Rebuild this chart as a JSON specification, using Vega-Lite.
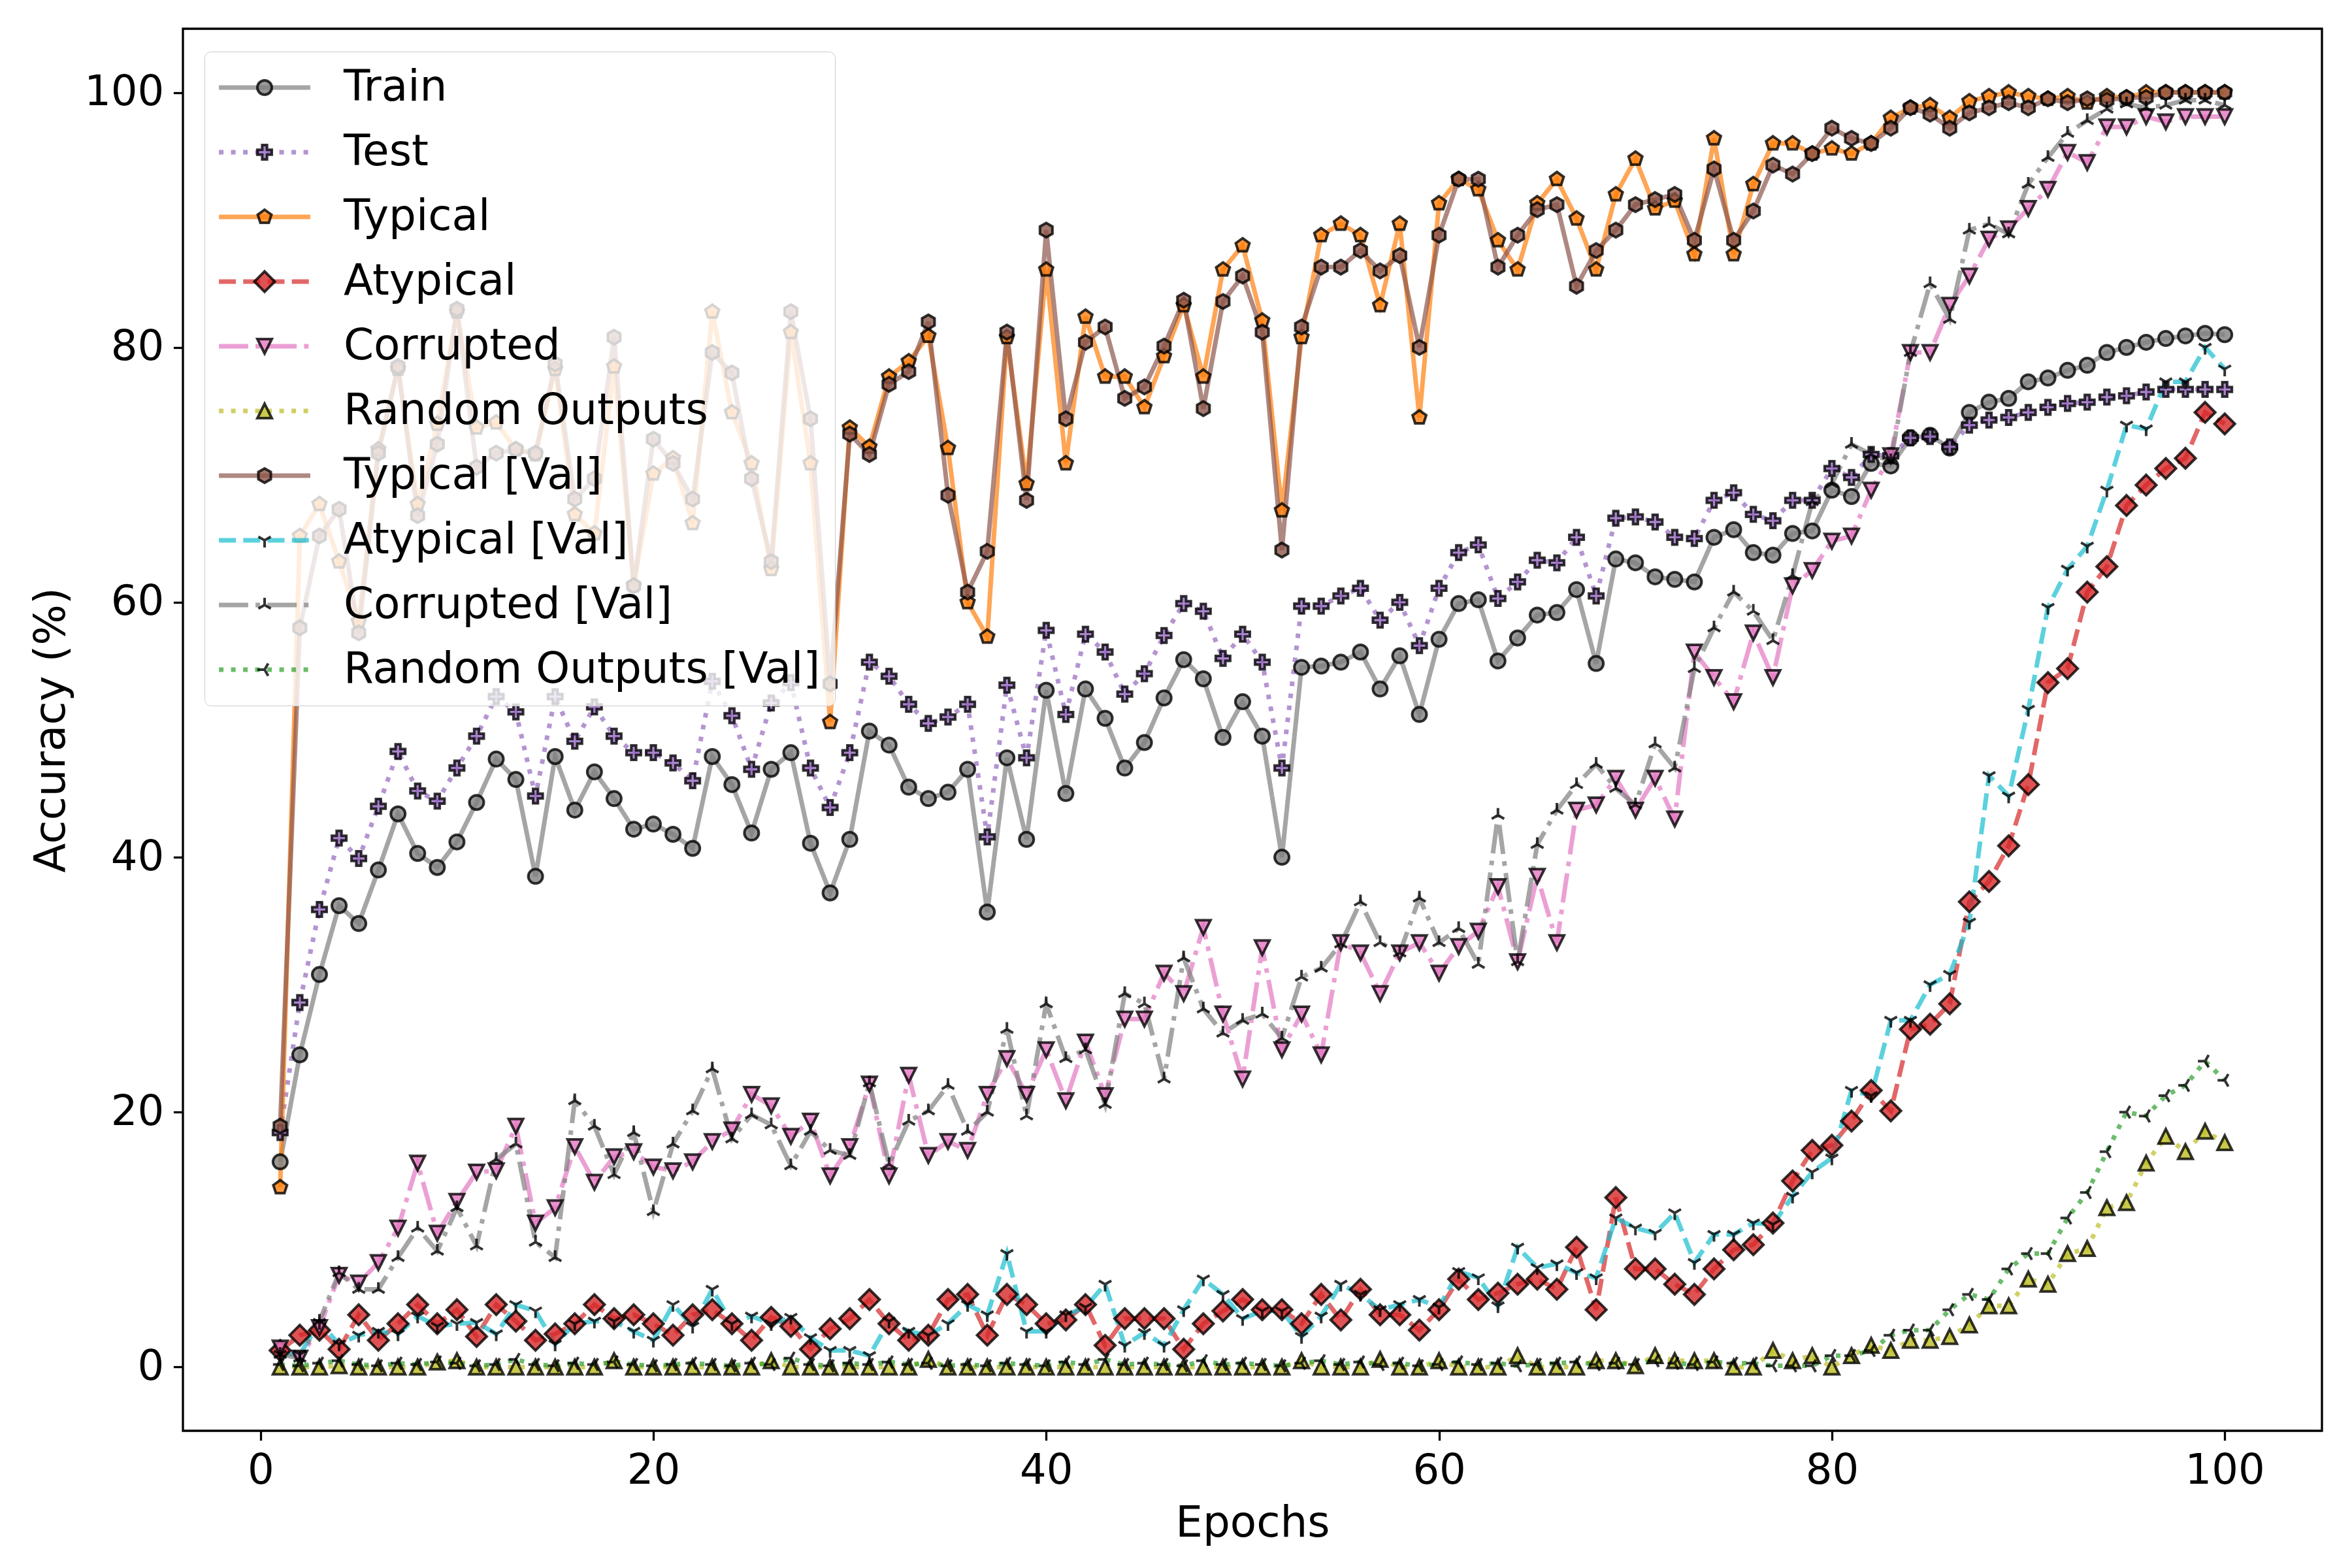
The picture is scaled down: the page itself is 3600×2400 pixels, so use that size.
{
  "$schema": "https://vega.github.io/schema/vega-lite/v6.json",
  "width": 3274,
  "height": 2146,
  "autosize": {"type": "none"},
  "padding": {"left": 280, "top": 44, "right": 46, "bottom": 210},
  "background": "white",
  "data": {"values": [
    {"series":"Train","epoch":1,"acc":16.1},{"series":"Train","epoch":2,"acc":24.5},{"series":"Train","epoch":3,"acc":30.8},{"series":"Train","epoch":4,"acc":36.2},{"series":"Train","epoch":5,"acc":34.8},{"series":"Train","epoch":6,"acc":39.0},{"series":"Train","epoch":7,"acc":43.4},{"series":"Train","epoch":8,"acc":40.3},{"series":"Train","epoch":9,"acc":39.2},{"series":"Train","epoch":10,"acc":41.2},
    {"series":"Train","epoch":11,"acc":44.3},{"series":"Train","epoch":12,"acc":47.7},{"series":"Train","epoch":13,"acc":46.1},{"series":"Train","epoch":14,"acc":38.5},{"series":"Train","epoch":15,"acc":47.9},{"series":"Train","epoch":16,"acc":43.7},{"series":"Train","epoch":17,"acc":46.7},{"series":"Train","epoch":18,"acc":44.6},{"series":"Train","epoch":19,"acc":42.2},{"series":"Train","epoch":20,"acc":42.6},
    {"series":"Train","epoch":21,"acc":41.8},{"series":"Train","epoch":22,"acc":40.7},{"series":"Train","epoch":23,"acc":47.9},{"series":"Train","epoch":24,"acc":45.7},{"series":"Train","epoch":25,"acc":41.9},{"series":"Train","epoch":26,"acc":46.9},{"series":"Train","epoch":27,"acc":48.2},{"series":"Train","epoch":28,"acc":41.1},{"series":"Train","epoch":29,"acc":37.2},{"series":"Train","epoch":30,"acc":41.4},
    {"series":"Train","epoch":31,"acc":49.9},{"series":"Train","epoch":32,"acc":48.8},{"series":"Train","epoch":33,"acc":45.5},{"series":"Train","epoch":34,"acc":44.6},{"series":"Train","epoch":35,"acc":45.1},{"series":"Train","epoch":36,"acc":46.9},{"series":"Train","epoch":37,"acc":35.7},{"series":"Train","epoch":38,"acc":47.8},{"series":"Train","epoch":39,"acc":41.4},{"series":"Train","epoch":40,"acc":53.1},
    {"series":"Train","epoch":41,"acc":45.0},{"series":"Train","epoch":42,"acc":53.2},{"series":"Train","epoch":43,"acc":50.9},{"series":"Train","epoch":44,"acc":47.0},{"series":"Train","epoch":45,"acc":49.0},{"series":"Train","epoch":46,"acc":52.5},{"series":"Train","epoch":47,"acc":55.5},{"series":"Train","epoch":48,"acc":54.0},{"series":"Train","epoch":49,"acc":49.4},{"series":"Train","epoch":50,"acc":52.2},
    {"series":"Train","epoch":51,"acc":49.5},{"series":"Train","epoch":52,"acc":40.0},{"series":"Train","epoch":53,"acc":54.9},{"series":"Train","epoch":54,"acc":55.0},{"series":"Train","epoch":55,"acc":55.3},{"series":"Train","epoch":56,"acc":56.1},{"series":"Train","epoch":57,"acc":53.2},{"series":"Train","epoch":58,"acc":55.8},{"series":"Train","epoch":59,"acc":51.2},{"series":"Train","epoch":60,"acc":57.1},
    {"series":"Train","epoch":61,"acc":59.9},{"series":"Train","epoch":62,"acc":60.2},{"series":"Train","epoch":63,"acc":55.4},{"series":"Train","epoch":64,"acc":57.2},{"series":"Train","epoch":65,"acc":59.0},{"series":"Train","epoch":66,"acc":59.2},{"series":"Train","epoch":67,"acc":61.0},{"series":"Train","epoch":68,"acc":55.2},{"series":"Train","epoch":69,"acc":63.4},{"series":"Train","epoch":70,"acc":63.1},
    {"series":"Train","epoch":71,"acc":62.0},{"series":"Train","epoch":72,"acc":61.8},{"series":"Train","epoch":73,"acc":61.6},{"series":"Train","epoch":74,"acc":65.1},{"series":"Train","epoch":75,"acc":65.7},{"series":"Train","epoch":76,"acc":63.9},{"series":"Train","epoch":77,"acc":63.7},{"series":"Train","epoch":78,"acc":65.4},{"series":"Train","epoch":79,"acc":65.6},{"series":"Train","epoch":80,"acc":68.8},
    {"series":"Train","epoch":81,"acc":68.3},{"series":"Train","epoch":82,"acc":70.9},{"series":"Train","epoch":83,"acc":70.7},{"series":"Train","epoch":84,"acc":72.9},{"series":"Train","epoch":85,"acc":73.1},{"series":"Train","epoch":86,"acc":72.1},{"series":"Train","epoch":87,"acc":74.9},{"series":"Train","epoch":88,"acc":75.7},{"series":"Train","epoch":89,"acc":76.0},{"series":"Train","epoch":90,"acc":77.3},
    {"series":"Train","epoch":91,"acc":77.6},{"series":"Train","epoch":92,"acc":78.2},{"series":"Train","epoch":93,"acc":78.6},{"series":"Train","epoch":94,"acc":79.6},{"series":"Train","epoch":95,"acc":80.0},{"series":"Train","epoch":96,"acc":80.4},{"series":"Train","epoch":97,"acc":80.7},{"series":"Train","epoch":98,"acc":80.9},{"series":"Train","epoch":99,"acc":81.1},{"series":"Train","epoch":100,"acc":81.0},

    {"series":"Test","epoch":1,"acc":18.4},{"series":"Test","epoch":2,"acc":28.6},{"series":"Test","epoch":3,"acc":35.9},{"series":"Test","epoch":4,"acc":41.5},{"series":"Test","epoch":5,"acc":39.9},{"series":"Test","epoch":6,"acc":44.0},{"series":"Test","epoch":7,"acc":48.3},{"series":"Test","epoch":8,"acc":45.2},{"series":"Test","epoch":9,"acc":44.4},{"series":"Test","epoch":10,"acc":47.0},
    {"series":"Test","epoch":11,"acc":49.5},{"series":"Test","epoch":12,"acc":52.6},{"series":"Test","epoch":13,"acc":51.4},{"series":"Test","epoch":14,"acc":44.8},{"series":"Test","epoch":15,"acc":52.6},{"series":"Test","epoch":16,"acc":49.1},{"series":"Test","epoch":17,"acc":51.8},{"series":"Test","epoch":18,"acc":49.5},{"series":"Test","epoch":19,"acc":48.2},{"series":"Test","epoch":20,"acc":48.2},
    {"series":"Test","epoch":21,"acc":47.4},{"series":"Test","epoch":22,"acc":46.0},{"series":"Test","epoch":23,"acc":53.8},{"series":"Test","epoch":24,"acc":51.1},{"series":"Test","epoch":25,"acc":46.9},{"series":"Test","epoch":26,"acc":52.1},{"series":"Test","epoch":27,"acc":53.7},{"series":"Test","epoch":28,"acc":47.0},{"series":"Test","epoch":29,"acc":43.9},{"series":"Test","epoch":30,"acc":48.2},
    {"series":"Test","epoch":31,"acc":55.3},{"series":"Test","epoch":32,"acc":54.2},{"series":"Test","epoch":33,"acc":52.0},{"series":"Test","epoch":34,"acc":50.5},{"series":"Test","epoch":35,"acc":51.0},{"series":"Test","epoch":36,"acc":52.0},{"series":"Test","epoch":37,"acc":41.6},{"series":"Test","epoch":38,"acc":53.5},{"series":"Test","epoch":39,"acc":47.8},{"series":"Test","epoch":40,"acc":57.8},
    {"series":"Test","epoch":41,"acc":51.2},{"series":"Test","epoch":42,"acc":57.5},{"series":"Test","epoch":43,"acc":56.1},{"series":"Test","epoch":44,"acc":52.8},{"series":"Test","epoch":45,"acc":54.4},{"series":"Test","epoch":46,"acc":57.4},{"series":"Test","epoch":47,"acc":59.9},{"series":"Test","epoch":48,"acc":59.3},{"series":"Test","epoch":49,"acc":55.6},{"series":"Test","epoch":50,"acc":57.5},
    {"series":"Test","epoch":51,"acc":55.3},{"series":"Test","epoch":52,"acc":47.0},{"series":"Test","epoch":53,"acc":59.7},{"series":"Test","epoch":54,"acc":59.7},{"series":"Test","epoch":55,"acc":60.5},{"series":"Test","epoch":56,"acc":61.1},{"series":"Test","epoch":57,"acc":58.6},{"series":"Test","epoch":58,"acc":60.0},{"series":"Test","epoch":59,"acc":56.6},{"series":"Test","epoch":60,"acc":61.1},
    {"series":"Test","epoch":61,"acc":63.9},{"series":"Test","epoch":62,"acc":64.5},{"series":"Test","epoch":63,"acc":60.3},{"series":"Test","epoch":64,"acc":61.6},{"series":"Test","epoch":65,"acc":63.3},{"series":"Test","epoch":66,"acc":63.1},{"series":"Test","epoch":67,"acc":65.1},{"series":"Test","epoch":68,"acc":60.5},{"series":"Test","epoch":69,"acc":66.6},{"series":"Test","epoch":70,"acc":66.7},
    {"series":"Test","epoch":71,"acc":66.3},{"series":"Test","epoch":72,"acc":65.1},{"series":"Test","epoch":73,"acc":65.0},{"series":"Test","epoch":74,"acc":68.0},{"series":"Test","epoch":75,"acc":68.6},{"series":"Test","epoch":76,"acc":66.9},{"series":"Test","epoch":77,"acc":66.4},{"series":"Test","epoch":78,"acc":68.0},{"series":"Test","epoch":79,"acc":68.0},{"series":"Test","epoch":80,"acc":70.5},
    {"series":"Test","epoch":81,"acc":69.8},{"series":"Test","epoch":82,"acc":71.6},{"series":"Test","epoch":83,"acc":71.5},{"series":"Test","epoch":84,"acc":72.9},{"series":"Test","epoch":85,"acc":73.0},{"series":"Test","epoch":86,"acc":72.2},{"series":"Test","epoch":87,"acc":73.9},{"series":"Test","epoch":88,"acc":74.3},{"series":"Test","epoch":89,"acc":74.5},{"series":"Test","epoch":90,"acc":74.9},
    {"series":"Test","epoch":91,"acc":75.3},{"series":"Test","epoch":92,"acc":75.6},{"series":"Test","epoch":93,"acc":75.7},{"series":"Test","epoch":94,"acc":76.1},{"series":"Test","epoch":95,"acc":76.2},{"series":"Test","epoch":96,"acc":76.5},{"series":"Test","epoch":97,"acc":76.7},{"series":"Test","epoch":98,"acc":76.7},{"series":"Test","epoch":99,"acc":76.7},{"series":"Test","epoch":100,"acc":76.7},

    {"series":"Typical","epoch":1,"acc":14.1},{"series":"Typical","epoch":2,"acc":65.2},{"series":"Typical","epoch":3,"acc":67.7},{"series":"Typical","epoch":4,"acc":63.2},{"series":"Typical","epoch":5,"acc":58.5},{"series":"Typical","epoch":6,"acc":72.0},{"series":"Typical","epoch":7,"acc":78.3},{"series":"Typical","epoch":8,"acc":67.7},{"series":"Typical","epoch":9,"acc":74.0},{"series":"Typical","epoch":10,"acc":82.8},
    {"series":"Typical","epoch":11,"acc":73.7},{"series":"Typical","epoch":12,"acc":74.1},{"series":"Typical","epoch":13,"acc":72.0},{"series":"Typical","epoch":14,"acc":71.6},{"series":"Typical","epoch":15,"acc":78.3},{"series":"Typical","epoch":16,"acc":66.9},{"series":"Typical","epoch":17,"acc":65.4},{"series":"Typical","epoch":18,"acc":78.5},{"series":"Typical","epoch":19,"acc":61.3},{"series":"Typical","epoch":20,"acc":70.1},
    {"series":"Typical","epoch":21,"acc":71.3},{"series":"Typical","epoch":22,"acc":66.2},{"series":"Typical","epoch":23,"acc":82.8},{"series":"Typical","epoch":24,"acc":74.9},{"series":"Typical","epoch":25,"acc":70.9},{"series":"Typical","epoch":26,"acc":62.6},{"series":"Typical","epoch":27,"acc":81.2},{"series":"Typical","epoch":28,"acc":70.9},{"series":"Typical","epoch":29,"acc":50.6},{"series":"Typical","epoch":30,"acc":73.7},
    {"series":"Typical","epoch":31,"acc":72.2},{"series":"Typical","epoch":32,"acc":77.7},{"series":"Typical","epoch":33,"acc":78.9},{"series":"Typical","epoch":34,"acc":80.9},{"series":"Typical","epoch":35,"acc":72.1},{"series":"Typical","epoch":36,"acc":60.0},{"series":"Typical","epoch":37,"acc":57.3},{"series":"Typical","epoch":38,"acc":80.8},{"series":"Typical","epoch":39,"acc":69.3},{"series":"Typical","epoch":40,"acc":86.1},
    {"series":"Typical","epoch":41,"acc":70.9},{"series":"Typical","epoch":42,"acc":82.4},{"series":"Typical","epoch":43,"acc":77.7},{"series":"Typical","epoch":44,"acc":77.7},{"series":"Typical","epoch":45,"acc":75.3},{"series":"Typical","epoch":46,"acc":79.3},{"series":"Typical","epoch":47,"acc":83.3},{"series":"Typical","epoch":48,"acc":77.7},{"series":"Typical","epoch":49,"acc":86.1},{"series":"Typical","epoch":50,"acc":88.0},
    {"series":"Typical","epoch":51,"acc":82.1},{"series":"Typical","epoch":52,"acc":67.2},{"series":"Typical","epoch":53,"acc":80.8},{"series":"Typical","epoch":54,"acc":88.8},{"series":"Typical","epoch":55,"acc":89.7},{"series":"Typical","epoch":56,"acc":88.8},{"series":"Typical","epoch":57,"acc":83.3},{"series":"Typical","epoch":58,"acc":89.7},{"series":"Typical","epoch":59,"acc":74.5},{"series":"Typical","epoch":60,"acc":91.3},
    {"series":"Typical","epoch":61,"acc":93.2},{"series":"Typical","epoch":62,"acc":92.4},{"series":"Typical","epoch":63,"acc":88.4},{"series":"Typical","epoch":64,"acc":86.1},{"series":"Typical","epoch":65,"acc":91.3},{"series":"Typical","epoch":66,"acc":93.2},{"series":"Typical","epoch":67,"acc":90.1},{"series":"Typical","epoch":68,"acc":86.1},{"series":"Typical","epoch":69,"acc":92.0},{"series":"Typical","epoch":70,"acc":94.8},
    {"series":"Typical","epoch":71,"acc":90.9},{"series":"Typical","epoch":72,"acc":91.5},{"series":"Typical","epoch":73,"acc":87.3},{"series":"Typical","epoch":74,"acc":96.4},{"series":"Typical","epoch":75,"acc":87.3},{"series":"Typical","epoch":76,"acc":92.8},{"series":"Typical","epoch":77,"acc":96.0},{"series":"Typical","epoch":78,"acc":96.0},{"series":"Typical","epoch":79,"acc":95.2},{"series":"Typical","epoch":80,"acc":95.6},
    {"series":"Typical","epoch":81,"acc":95.2},{"series":"Typical","epoch":82,"acc":96.0},{"series":"Typical","epoch":83,"acc":98.0},{"series":"Typical","epoch":84,"acc":98.8},{"series":"Typical","epoch":85,"acc":99.0},{"series":"Typical","epoch":86,"acc":98.0},{"series":"Typical","epoch":87,"acc":99.3},{"series":"Typical","epoch":88,"acc":99.7},{"series":"Typical","epoch":89,"acc":100.0},{"series":"Typical","epoch":90,"acc":99.7},
    {"series":"Typical","epoch":91,"acc":99.5},{"series":"Typical","epoch":92,"acc":99.7},{"series":"Typical","epoch":93,"acc":99.2},{"series":"Typical","epoch":94,"acc":99.7},{"series":"Typical","epoch":95,"acc":99.6},{"series":"Typical","epoch":96,"acc":100.0},{"series":"Typical","epoch":97,"acc":100.0},{"series":"Typical","epoch":98,"acc":100.0},{"series":"Typical","epoch":99,"acc":100.0},{"series":"Typical","epoch":100,"acc":100.0},

    {"series":"Atypical","epoch":1,"acc":1.3},{"series":"Atypical","epoch":2,"acc":2.5},{"series":"Atypical","epoch":3,"acc":2.9},{"series":"Atypical","epoch":4,"acc":1.4},{"series":"Atypical","epoch":5,"acc":4.1},{"series":"Atypical","epoch":6,"acc":2.1},{"series":"Atypical","epoch":7,"acc":3.4},{"series":"Atypical","epoch":8,"acc":4.9},{"series":"Atypical","epoch":9,"acc":3.4},{"series":"Atypical","epoch":10,"acc":4.5},
    {"series":"Atypical","epoch":11,"acc":2.4},{"series":"Atypical","epoch":12,"acc":4.9},{"series":"Atypical","epoch":13,"acc":3.6},{"series":"Atypical","epoch":14,"acc":2.1},{"series":"Atypical","epoch":15,"acc":2.6},{"series":"Atypical","epoch":16,"acc":3.4},{"series":"Atypical","epoch":17,"acc":4.9},{"series":"Atypical","epoch":18,"acc":3.8},{"series":"Atypical","epoch":19,"acc":4.1},{"series":"Atypical","epoch":20,"acc":3.4},
    {"series":"Atypical","epoch":21,"acc":2.5},{"series":"Atypical","epoch":22,"acc":4.1},{"series":"Atypical","epoch":23,"acc":4.5},{"series":"Atypical","epoch":24,"acc":3.4},{"series":"Atypical","epoch":25,"acc":2.1},{"series":"Atypical","epoch":26,"acc":3.9},{"series":"Atypical","epoch":27,"acc":3.2},{"series":"Atypical","epoch":28,"acc":1.4},{"series":"Atypical","epoch":29,"acc":3.0},{"series":"Atypical","epoch":30,"acc":3.8},
    {"series":"Atypical","epoch":31,"acc":5.3},{"series":"Atypical","epoch":32,"acc":3.4},{"series":"Atypical","epoch":33,"acc":2.1},{"series":"Atypical","epoch":34,"acc":2.5},{"series":"Atypical","epoch":35,"acc":5.3},{"series":"Atypical","epoch":36,"acc":5.7},{"series":"Atypical","epoch":37,"acc":2.5},{"series":"Atypical","epoch":38,"acc":5.7},{"series":"Atypical","epoch":39,"acc":4.9},{"series":"Atypical","epoch":40,"acc":3.4},
    {"series":"Atypical","epoch":41,"acc":3.7},{"series":"Atypical","epoch":42,"acc":4.9},{"series":"Atypical","epoch":43,"acc":1.7},{"series":"Atypical","epoch":44,"acc":3.8},{"series":"Atypical","epoch":45,"acc":3.8},{"series":"Atypical","epoch":46,"acc":3.8},{"series":"Atypical","epoch":47,"acc":1.4},{"series":"Atypical","epoch":48,"acc":3.4},{"series":"Atypical","epoch":49,"acc":4.4},{"series":"Atypical","epoch":50,"acc":5.3},
    {"series":"Atypical","epoch":51,"acc":4.5},{"series":"Atypical","epoch":52,"acc":4.5},{"series":"Atypical","epoch":53,"acc":3.4},{"series":"Atypical","epoch":54,"acc":5.7},{"series":"Atypical","epoch":55,"acc":3.7},{"series":"Atypical","epoch":56,"acc":6.1},{"series":"Atypical","epoch":57,"acc":4.1},{"series":"Atypical","epoch":58,"acc":4.1},{"series":"Atypical","epoch":59,"acc":2.9},{"series":"Atypical","epoch":60,"acc":4.5},
    {"series":"Atypical","epoch":61,"acc":6.9},{"series":"Atypical","epoch":62,"acc":5.3},{"series":"Atypical","epoch":63,"acc":5.8},{"series":"Atypical","epoch":64,"acc":6.5},{"series":"Atypical","epoch":65,"acc":6.9},{"series":"Atypical","epoch":66,"acc":6.1},{"series":"Atypical","epoch":67,"acc":9.4},{"series":"Atypical","epoch":68,"acc":4.5},{"series":"Atypical","epoch":69,"acc":13.3},{"series":"Atypical","epoch":70,"acc":7.7},
    {"series":"Atypical","epoch":71,"acc":7.7},{"series":"Atypical","epoch":72,"acc":6.5},{"series":"Atypical","epoch":73,"acc":5.7},{"series":"Atypical","epoch":74,"acc":7.7},{"series":"Atypical","epoch":75,"acc":9.2},{"series":"Atypical","epoch":76,"acc":9.6},{"series":"Atypical","epoch":77,"acc":11.3},{"series":"Atypical","epoch":78,"acc":14.6},{"series":"Atypical","epoch":79,"acc":17.0},{"series":"Atypical","epoch":80,"acc":17.4},
    {"series":"Atypical","epoch":81,"acc":19.3},{"series":"Atypical","epoch":82,"acc":21.7},{"series":"Atypical","epoch":83,"acc":20.1},{"series":"Atypical","epoch":84,"acc":26.5},{"series":"Atypical","epoch":85,"acc":26.9},{"series":"Atypical","epoch":86,"acc":28.5},{"series":"Atypical","epoch":87,"acc":36.5},{"series":"Atypical","epoch":88,"acc":38.1},{"series":"Atypical","epoch":89,"acc":40.9},{"series":"Atypical","epoch":90,"acc":45.7},
    {"series":"Atypical","epoch":91,"acc":53.7},{"series":"Atypical","epoch":92,"acc":54.8},{"series":"Atypical","epoch":93,"acc":60.8},{"series":"Atypical","epoch":94,"acc":62.8},{"series":"Atypical","epoch":95,"acc":67.6},{"series":"Atypical","epoch":96,"acc":69.2},{"series":"Atypical","epoch":97,"acc":70.5},{"series":"Atypical","epoch":98,"acc":71.3},{"series":"Atypical","epoch":99,"acc":74.9},{"series":"Atypical","epoch":100,"acc":74.0},

    {"series":"Corrupted","epoch":1,"acc":1.5},{"series":"Corrupted","epoch":2,"acc":0.7},{"series":"Corrupted","epoch":3,"acc":3.1},{"series":"Corrupted","epoch":4,"acc":7.2},{"series":"Corrupted","epoch":5,"acc":6.6},{"series":"Corrupted","epoch":6,"acc":8.2},{"series":"Corrupted","epoch":7,"acc":10.9},{"series":"Corrupted","epoch":8,"acc":16.0},{"series":"Corrupted","epoch":9,"acc":10.5},{"series":"Corrupted","epoch":10,"acc":13.0},
    {"series":"Corrupted","epoch":11,"acc":15.3},{"series":"Corrupted","epoch":12,"acc":15.4},{"series":"Corrupted","epoch":13,"acc":18.9},{"series":"Corrupted","epoch":14,"acc":11.3},{"series":"Corrupted","epoch":15,"acc":12.5},{"series":"Corrupted","epoch":16,"acc":17.3},{"series":"Corrupted","epoch":17,"acc":14.5},{"series":"Corrupted","epoch":18,"acc":16.5},{"series":"Corrupted","epoch":19,"acc":16.9},{"series":"Corrupted","epoch":20,"acc":15.7},
    {"series":"Corrupted","epoch":21,"acc":15.4},{"series":"Corrupted","epoch":22,"acc":16.1},{"series":"Corrupted","epoch":23,"acc":17.7},{"series":"Corrupted","epoch":24,"acc":18.6},{"series":"Corrupted","epoch":25,"acc":21.4},{"series":"Corrupted","epoch":26,"acc":20.5},{"series":"Corrupted","epoch":27,"acc":18.1},{"series":"Corrupted","epoch":28,"acc":19.3},{"series":"Corrupted","epoch":29,"acc":15.0},{"series":"Corrupted","epoch":30,"acc":17.3},
    {"series":"Corrupted","epoch":31,"acc":22.2},{"series":"Corrupted","epoch":32,"acc":15.0},{"series":"Corrupted","epoch":33,"acc":22.9},{"series":"Corrupted","epoch":34,"acc":16.6},{"series":"Corrupted","epoch":35,"acc":17.7},{"series":"Corrupted","epoch":36,"acc":17.0},{"series":"Corrupted","epoch":37,"acc":21.4},{"series":"Corrupted","epoch":38,"acc":24.2},{"series":"Corrupted","epoch":39,"acc":21.4},{"series":"Corrupted","epoch":40,"acc":24.9},
    {"series":"Corrupted","epoch":41,"acc":20.9},{"series":"Corrupted","epoch":42,"acc":25.5},{"series":"Corrupted","epoch":43,"acc":21.3},{"series":"Corrupted","epoch":44,"acc":27.3},{"series":"Corrupted","epoch":45,"acc":27.3},{"series":"Corrupted","epoch":46,"acc":30.9},{"series":"Corrupted","epoch":47,"acc":29.3},{"series":"Corrupted","epoch":48,"acc":34.5},{"series":"Corrupted","epoch":49,"acc":27.7},{"series":"Corrupted","epoch":50,"acc":22.6},
    {"series":"Corrupted","epoch":51,"acc":32.9},{"series":"Corrupted","epoch":52,"acc":24.9},{"series":"Corrupted","epoch":53,"acc":27.7},{"series":"Corrupted","epoch":54,"acc":24.5},{"series":"Corrupted","epoch":55,"acc":33.3},{"series":"Corrupted","epoch":56,"acc":32.5},{"series":"Corrupted","epoch":57,"acc":29.3},{"series":"Corrupted","epoch":58,"acc":32.5},{"series":"Corrupted","epoch":59,"acc":33.3},{"series":"Corrupted","epoch":60,"acc":30.9},
    {"series":"Corrupted","epoch":61,"acc":33.0},{"series":"Corrupted","epoch":62,"acc":34.2},{"series":"Corrupted","epoch":63,"acc":37.7},{"series":"Corrupted","epoch":64,"acc":31.8},{"series":"Corrupted","epoch":65,"acc":38.5},{"series":"Corrupted","epoch":66,"acc":33.3},{"series":"Corrupted","epoch":67,"acc":43.7},{"series":"Corrupted","epoch":68,"acc":44.1},{"series":"Corrupted","epoch":69,"acc":46.2},{"series":"Corrupted","epoch":70,"acc":43.7},
    {"series":"Corrupted","epoch":71,"acc":46.2},{"series":"Corrupted","epoch":72,"acc":43.0},{"series":"Corrupted","epoch":73,"acc":56.1},{"series":"Corrupted","epoch":74,"acc":54.1},{"series":"Corrupted","epoch":75,"acc":52.2},{"series":"Corrupted","epoch":76,"acc":57.6},{"series":"Corrupted","epoch":77,"acc":54.1},{"series":"Corrupted","epoch":78,"acc":61.3},{"series":"Corrupted","epoch":79,"acc":62.5},{"series":"Corrupted","epoch":80,"acc":64.8},
    {"series":"Corrupted","epoch":81,"acc":65.2},{"series":"Corrupted","epoch":82,"acc":68.8},{"series":"Corrupted","epoch":83,"acc":71.5},{"series":"Corrupted","epoch":84,"acc":79.6},{"series":"Corrupted","epoch":85,"acc":79.6},{"series":"Corrupted","epoch":86,"acc":83.3},{"series":"Corrupted","epoch":87,"acc":85.6},{"series":"Corrupted","epoch":88,"acc":88.5},{"series":"Corrupted","epoch":89,"acc":89.3},{"series":"Corrupted","epoch":90,"acc":90.9},
    {"series":"Corrupted","epoch":91,"acc":92.4},{"series":"Corrupted","epoch":92,"acc":95.3},{"series":"Corrupted","epoch":93,"acc":94.5},{"series":"Corrupted","epoch":94,"acc":97.3},{"series":"Corrupted","epoch":95,"acc":97.3},{"series":"Corrupted","epoch":96,"acc":98.1},{"series":"Corrupted","epoch":97,"acc":97.7},{"series":"Corrupted","epoch":98,"acc":98.1},{"series":"Corrupted","epoch":99,"acc":98.1},{"series":"Corrupted","epoch":100,"acc":98.1},

    {"series":"Random Outputs","epoch":1,"acc":0},{"series":"Random Outputs","epoch":2,"acc":0},{"series":"Random Outputs","epoch":3,"acc":0},{"series":"Random Outputs","epoch":4,"acc":0.1},{"series":"Random Outputs","epoch":5,"acc":0},{"series":"Random Outputs","epoch":6,"acc":0},{"series":"Random Outputs","epoch":7,"acc":0},{"series":"Random Outputs","epoch":8,"acc":0},{"series":"Random Outputs","epoch":9,"acc":0.4},{"series":"Random Outputs","epoch":10,"acc":0.5},
    {"series":"Random Outputs","epoch":11,"acc":0},{"series":"Random Outputs","epoch":12,"acc":0},{"series":"Random Outputs","epoch":13,"acc":0},{"series":"Random Outputs","epoch":14,"acc":0},{"series":"Random Outputs","epoch":15,"acc":0},{"series":"Random Outputs","epoch":16,"acc":0},{"series":"Random Outputs","epoch":17,"acc":0},{"series":"Random Outputs","epoch":18,"acc":0.5},{"series":"Random Outputs","epoch":19,"acc":0},{"series":"Random Outputs","epoch":20,"acc":0},
    {"series":"Random Outputs","epoch":21,"acc":0},{"series":"Random Outputs","epoch":22,"acc":0},{"series":"Random Outputs","epoch":23,"acc":0},{"series":"Random Outputs","epoch":24,"acc":0},{"series":"Random Outputs","epoch":25,"acc":0},{"series":"Random Outputs","epoch":26,"acc":0.5},{"series":"Random Outputs","epoch":27,"acc":0},{"series":"Random Outputs","epoch":28,"acc":0},{"series":"Random Outputs","epoch":29,"acc":0},{"series":"Random Outputs","epoch":30,"acc":0},
    {"series":"Random Outputs","epoch":31,"acc":0},{"series":"Random Outputs","epoch":32,"acc":0},{"series":"Random Outputs","epoch":33,"acc":0},{"series":"Random Outputs","epoch":34,"acc":0.6},{"series":"Random Outputs","epoch":35,"acc":0},{"series":"Random Outputs","epoch":36,"acc":0},{"series":"Random Outputs","epoch":37,"acc":0},{"series":"Random Outputs","epoch":38,"acc":0},{"series":"Random Outputs","epoch":39,"acc":0},{"series":"Random Outputs","epoch":40,"acc":0},
    {"series":"Random Outputs","epoch":41,"acc":0},{"series":"Random Outputs","epoch":42,"acc":0},{"series":"Random Outputs","epoch":43,"acc":0},{"series":"Random Outputs","epoch":44,"acc":0},{"series":"Random Outputs","epoch":45,"acc":0},{"series":"Random Outputs","epoch":46,"acc":0},{"series":"Random Outputs","epoch":47,"acc":0},{"series":"Random Outputs","epoch":48,"acc":0},{"series":"Random Outputs","epoch":49,"acc":0},{"series":"Random Outputs","epoch":50,"acc":0},
    {"series":"Random Outputs","epoch":51,"acc":0},{"series":"Random Outputs","epoch":52,"acc":0},{"series":"Random Outputs","epoch":53,"acc":0.5},{"series":"Random Outputs","epoch":54,"acc":0},{"series":"Random Outputs","epoch":55,"acc":0},{"series":"Random Outputs","epoch":56,"acc":0},{"series":"Random Outputs","epoch":57,"acc":0.6},{"series":"Random Outputs","epoch":58,"acc":0},{"series":"Random Outputs","epoch":59,"acc":0},{"series":"Random Outputs","epoch":60,"acc":0.5},
    {"series":"Random Outputs","epoch":61,"acc":0},{"series":"Random Outputs","epoch":62,"acc":0},{"series":"Random Outputs","epoch":63,"acc":0},{"series":"Random Outputs","epoch":64,"acc":0.9},{"series":"Random Outputs","epoch":65,"acc":0},{"series":"Random Outputs","epoch":66,"acc":0},{"series":"Random Outputs","epoch":67,"acc":0},{"series":"Random Outputs","epoch":68,"acc":0.5},{"series":"Random Outputs","epoch":69,"acc":0.5},{"series":"Random Outputs","epoch":70,"acc":0.1},
    {"series":"Random Outputs","epoch":71,"acc":0.9},{"series":"Random Outputs","epoch":72,"acc":0.5},{"series":"Random Outputs","epoch":73,"acc":0.5},{"series":"Random Outputs","epoch":74,"acc":0.5},{"series":"Random Outputs","epoch":75,"acc":0},{"series":"Random Outputs","epoch":76,"acc":0},{"series":"Random Outputs","epoch":77,"acc":1.3},{"series":"Random Outputs","epoch":78,"acc":0.5},{"series":"Random Outputs","epoch":79,"acc":0.9},{"series":"Random Outputs","epoch":80,"acc":0},
    {"series":"Random Outputs","epoch":81,"acc":0.9},{"series":"Random Outputs","epoch":82,"acc":1.7},{"series":"Random Outputs","epoch":83,"acc":1.3},{"series":"Random Outputs","epoch":84,"acc":2.1},{"series":"Random Outputs","epoch":85,"acc":2.1},{"series":"Random Outputs","epoch":86,"acc":2.4},{"series":"Random Outputs","epoch":87,"acc":3.3},{"series":"Random Outputs","epoch":88,"acc":4.8},{"series":"Random Outputs","epoch":89,"acc":4.8},{"series":"Random Outputs","epoch":90,"acc":6.9},
    {"series":"Random Outputs","epoch":91,"acc":6.5},{"series":"Random Outputs","epoch":92,"acc":8.9},{"series":"Random Outputs","epoch":93,"acc":9.3},{"series":"Random Outputs","epoch":94,"acc":12.5},{"series":"Random Outputs","epoch":95,"acc":12.9},{"series":"Random Outputs","epoch":96,"acc":16.0},{"series":"Random Outputs","epoch":97,"acc":18.1},{"series":"Random Outputs","epoch":98,"acc":16.9},{"series":"Random Outputs","epoch":99,"acc":18.5},{"series":"Random Outputs","epoch":100,"acc":17.6},

    {"series":"Typical [Val]","epoch":1,"acc":18.9},{"series":"Typical [Val]","epoch":2,"acc":58.0},{"series":"Typical [Val]","epoch":3,"acc":65.2},{"series":"Typical [Val]","epoch":4,"acc":67.3},{"series":"Typical [Val]","epoch":5,"acc":57.6},{"series":"Typical [Val]","epoch":6,"acc":71.7},{"series":"Typical [Val]","epoch":7,"acc":78.5},{"series":"Typical [Val]","epoch":8,"acc":66.8},{"series":"Typical [Val]","epoch":9,"acc":72.4},{"series":"Typical [Val]","epoch":10,"acc":83.0},
    {"series":"Typical [Val]","epoch":11,"acc":70.6},{"series":"Typical [Val]","epoch":12,"acc":71.7},{"series":"Typical [Val]","epoch":13,"acc":72.0},{"series":"Typical [Val]","epoch":14,"acc":71.7},{"series":"Typical [Val]","epoch":15,"acc":78.7},{"series":"Typical [Val]","epoch":16,"acc":68.1},{"series":"Typical [Val]","epoch":17,"acc":69.7},{"series":"Typical [Val]","epoch":18,"acc":80.8},{"series":"Typical [Val]","epoch":19,"acc":61.3},{"series":"Typical [Val]","epoch":20,"acc":72.8},
    {"series":"Typical [Val]","epoch":21,"acc":70.9},{"series":"Typical [Val]","epoch":22,"acc":68.1},{"series":"Typical [Val]","epoch":23,"acc":79.6},{"series":"Typical [Val]","epoch":24,"acc":78.0},{"series":"Typical [Val]","epoch":25,"acc":69.7},{"series":"Typical [Val]","epoch":26,"acc":63.2},{"series":"Typical [Val]","epoch":27,"acc":82.8},{"series":"Typical [Val]","epoch":28,"acc":74.4},{"series":"Typical [Val]","epoch":29,"acc":53.6},{"series":"Typical [Val]","epoch":30,"acc":73.2},
    {"series":"Typical [Val]","epoch":31,"acc":71.6},{"series":"Typical [Val]","epoch":32,"acc":77.1},{"series":"Typical [Val]","epoch":33,"acc":78.1},{"series":"Typical [Val]","epoch":34,"acc":82.0},{"series":"Typical [Val]","epoch":35,"acc":68.4},{"series":"Typical [Val]","epoch":36,"acc":60.8},{"series":"Typical [Val]","epoch":37,"acc":64.0},{"series":"Typical [Val]","epoch":38,"acc":81.2},{"series":"Typical [Val]","epoch":39,"acc":68.0},{"series":"Typical [Val]","epoch":40,"acc":89.2},
    {"series":"Typical [Val]","epoch":41,"acc":74.4},{"series":"Typical [Val]","epoch":42,"acc":80.4},{"series":"Typical [Val]","epoch":43,"acc":81.6},{"series":"Typical [Val]","epoch":44,"acc":76.0},{"series":"Typical [Val]","epoch":45,"acc":76.9},{"series":"Typical [Val]","epoch":46,"acc":80.1},{"series":"Typical [Val]","epoch":47,"acc":83.7},{"series":"Typical [Val]","epoch":48,"acc":75.2},{"series":"Typical [Val]","epoch":49,"acc":83.6},{"series":"Typical [Val]","epoch":50,"acc":85.6},
    {"series":"Typical [Val]","epoch":51,"acc":81.2},{"series":"Typical [Val]","epoch":52,"acc":64.1},{"series":"Typical [Val]","epoch":53,"acc":81.6},{"series":"Typical [Val]","epoch":54,"acc":86.3},{"series":"Typical [Val]","epoch":55,"acc":86.3},{"series":"Typical [Val]","epoch":56,"acc":87.6},{"series":"Typical [Val]","epoch":57,"acc":86.0},{"series":"Typical [Val]","epoch":58,"acc":87.2},{"series":"Typical [Val]","epoch":59,"acc":80.0},{"series":"Typical [Val]","epoch":60,"acc":88.8},
    {"series":"Typical [Val]","epoch":61,"acc":93.2},{"series":"Typical [Val]","epoch":62,"acc":93.2},{"series":"Typical [Val]","epoch":63,"acc":86.3},{"series":"Typical [Val]","epoch":64,"acc":88.8},{"series":"Typical [Val]","epoch":65,"acc":90.8},{"series":"Typical [Val]","epoch":66,"acc":91.2},{"series":"Typical [Val]","epoch":67,"acc":84.8},{"series":"Typical [Val]","epoch":68,"acc":87.6},{"series":"Typical [Val]","epoch":69,"acc":89.2},{"series":"Typical [Val]","epoch":70,"acc":91.2},
    {"series":"Typical [Val]","epoch":71,"acc":91.6},{"series":"Typical [Val]","epoch":72,"acc":92.0},{"series":"Typical [Val]","epoch":73,"acc":88.4},{"series":"Typical [Val]","epoch":74,"acc":94.0},{"series":"Typical [Val]","epoch":75,"acc":88.4},{"series":"Typical [Val]","epoch":76,"acc":90.7},{"series":"Typical [Val]","epoch":77,"acc":94.3},{"series":"Typical [Val]","epoch":78,"acc":93.6},{"series":"Typical [Val]","epoch":79,"acc":95.2},{"series":"Typical [Val]","epoch":80,"acc":97.2},
    {"series":"Typical [Val]","epoch":81,"acc":96.4},{"series":"Typical [Val]","epoch":82,"acc":96.0},{"series":"Typical [Val]","epoch":83,"acc":97.2},{"series":"Typical [Val]","epoch":84,"acc":98.8},{"series":"Typical [Val]","epoch":85,"acc":98.3},{"series":"Typical [Val]","epoch":86,"acc":97.2},{"series":"Typical [Val]","epoch":87,"acc":98.4},{"series":"Typical [Val]","epoch":88,"acc":98.8},{"series":"Typical [Val]","epoch":89,"acc":99.2},{"series":"Typical [Val]","epoch":90,"acc":98.8},
    {"series":"Typical [Val]","epoch":91,"acc":99.5},{"series":"Typical [Val]","epoch":92,"acc":99.2},{"series":"Typical [Val]","epoch":93,"acc":99.5},{"series":"Typical [Val]","epoch":94,"acc":99.4},{"series":"Typical [Val]","epoch":95,"acc":99.6},{"series":"Typical [Val]","epoch":96,"acc":99.6},{"series":"Typical [Val]","epoch":97,"acc":100.0},{"series":"Typical [Val]","epoch":98,"acc":100.0},{"series":"Typical [Val]","epoch":99,"acc":100.0},{"series":"Typical [Val]","epoch":100,"acc":100.0},

    {"series":"Atypical [Val]","epoch":1,"acc":1.0},{"series":"Atypical [Val]","epoch":2,"acc":1.0},{"series":"Atypical [Val]","epoch":3,"acc":3.5},{"series":"Atypical [Val]","epoch":4,"acc":1.8},{"series":"Atypical [Val]","epoch":5,"acc":2.5},{"series":"Atypical [Val]","epoch":6,"acc":2.8},{"series":"Atypical [Val]","epoch":7,"acc":2.6},{"series":"Atypical [Val]","epoch":8,"acc":4.0},{"series":"Atypical [Val]","epoch":9,"acc":3.2},{"series":"Atypical [Val]","epoch":10,"acc":3.4},
    {"series":"Atypical [Val]","epoch":11,"acc":3.5},{"series":"Atypical [Val]","epoch":12,"acc":2.6},{"series":"Atypical [Val]","epoch":13,"acc":4.9},{"series":"Atypical [Val]","epoch":14,"acc":4.4},{"series":"Atypical [Val]","epoch":15,"acc":1.8},{"series":"Atypical [Val]","epoch":16,"acc":3.4},{"series":"Atypical [Val]","epoch":17,"acc":3.6},{"series":"Atypical [Val]","epoch":18,"acc":3.6},{"series":"Atypical [Val]","epoch":19,"acc":2.8},{"series":"Atypical [Val]","epoch":20,"acc":2.1},
    {"series":"Atypical [Val]","epoch":21,"acc":4.9},{"series":"Atypical [Val]","epoch":22,"acc":3.2},{"series":"Atypical [Val]","epoch":23,"acc":6.1},{"series":"Atypical [Val]","epoch":24,"acc":3.4},{"series":"Atypical [Val]","epoch":25,"acc":4.0},{"series":"Atypical [Val]","epoch":26,"acc":3.4},{"series":"Atypical [Val]","epoch":27,"acc":3.9},{"series":"Atypical [Val]","epoch":28,"acc":2.3},{"series":"Atypical [Val]","epoch":29,"acc":1.3},{"series":"Atypical [Val]","epoch":30,"acc":1.3},
    {"series":"Atypical [Val]","epoch":31,"acc":0.9},{"series":"Atypical [Val]","epoch":32,"acc":3.6},{"series":"Atypical [Val]","epoch":33,"acc":2.8},{"series":"Atypical [Val]","epoch":34,"acc":2.5},{"series":"Atypical [Val]","epoch":35,"acc":3.4},{"series":"Atypical [Val]","epoch":36,"acc":4.9},{"series":"Atypical [Val]","epoch":37,"acc":4.1},{"series":"Atypical [Val]","epoch":38,"acc":8.9},{"series":"Atypical [Val]","epoch":39,"acc":2.8},{"series":"Atypical [Val]","epoch":40,"acc":2.8},
    {"series":"Atypical [Val]","epoch":41,"acc":4.1},{"series":"Atypical [Val]","epoch":42,"acc":4.7},{"series":"Atypical [Val]","epoch":43,"acc":6.5},{"series":"Atypical [Val]","epoch":44,"acc":1.7},{"series":"Atypical [Val]","epoch":45,"acc":2.7},{"series":"Atypical [Val]","epoch":46,"acc":1.7},{"series":"Atypical [Val]","epoch":47,"acc":4.5},{"series":"Atypical [Val]","epoch":48,"acc":6.9},{"series":"Atypical [Val]","epoch":49,"acc":5.7},{"series":"Atypical [Val]","epoch":50,"acc":3.8},
    {"series":"Atypical [Val]","epoch":51,"acc":4.4},{"series":"Atypical [Val]","epoch":52,"acc":4.4},{"series":"Atypical [Val]","epoch":53,"acc":2.4},{"series":"Atypical [Val]","epoch":54,"acc":4.0},{"series":"Atypical [Val]","epoch":55,"acc":6.5},{"series":"Atypical [Val]","epoch":56,"acc":5.7},{"series":"Atypical [Val]","epoch":57,"acc":4.5},{"series":"Atypical [Val]","epoch":58,"acc":4.9},{"series":"Atypical [Val]","epoch":59,"acc":5.3},{"series":"Atypical [Val]","epoch":60,"acc":4.7},
    {"series":"Atypical [Val]","epoch":61,"acc":7.5},{"series":"Atypical [Val]","epoch":62,"acc":7.0},{"series":"Atypical [Val]","epoch":63,"acc":4.8},{"series":"Atypical [Val]","epoch":64,"acc":9.4},{"series":"Atypical [Val]","epoch":65,"acc":7.8},{"series":"Atypical [Val]","epoch":66,"acc":8.1},{"series":"Atypical [Val]","epoch":67,"acc":7.4},{"series":"Atypical [Val]","epoch":68,"acc":7.0},{"series":"Atypical [Val]","epoch":69,"acc":11.7},{"series":"Atypical [Val]","epoch":70,"acc":10.9},
    {"series":"Atypical [Val]","epoch":71,"acc":10.5},{"series":"Atypical [Val]","epoch":72,"acc":12.1},{"series":"Atypical [Val]","epoch":73,"acc":8.2},{"series":"Atypical [Val]","epoch":74,"acc":10.4},{"series":"Atypical [Val]","epoch":75,"acc":10.4},{"series":"Atypical [Val]","epoch":76,"acc":11.3},{"series":"Atypical [Val]","epoch":77,"acc":11.2},{"series":"Atypical [Val]","epoch":78,"acc":13.4},{"series":"Atypical [Val]","epoch":79,"acc":15.3},{"series":"Atypical [Val]","epoch":80,"acc":16.4},
    {"series":"Atypical [Val]","epoch":81,"acc":21.7},{"series":"Atypical [Val]","epoch":82,"acc":21.3},{"series":"Atypical [Val]","epoch":83,"acc":27.2},{"series":"Atypical [Val]","epoch":84,"acc":27.2},{"series":"Atypical [Val]","epoch":85,"acc":30.0},{"series":"Atypical [Val]","epoch":86,"acc":30.8},{"series":"Atypical [Val]","epoch":87,"acc":34.9},{"series":"Atypical [Val]","epoch":88,"acc":46.4},{"series":"Atypical [Val]","epoch":89,"acc":44.8},{"series":"Atypical [Val]","epoch":90,"acc":51.6},
    {"series":"Atypical [Val]","epoch":91,"acc":59.6},{"series":"Atypical [Val]","epoch":92,"acc":62.6},{"series":"Atypical [Val]","epoch":93,"acc":64.4},{"series":"Atypical [Val]","epoch":94,"acc":68.8},{"series":"Atypical [Val]","epoch":95,"acc":73.9},{"series":"Atypical [Val]","epoch":96,"acc":73.6},{"series":"Atypical [Val]","epoch":97,"acc":77.3},{"series":"Atypical [Val]","epoch":98,"acc":77.3},{"series":"Atypical [Val]","epoch":99,"acc":80.0},{"series":"Atypical [Val]","epoch":100,"acc":78.3},

    {"series":"Corrupted [Val]","epoch":1,"acc":1.0},{"series":"Corrupted [Val]","epoch":2,"acc":0.7},{"series":"Corrupted [Val]","epoch":3,"acc":3.6},{"series":"Corrupted [Val]","epoch":4,"acc":7.4},{"series":"Corrupted [Val]","epoch":5,"acc":6.1},{"series":"Corrupted [Val]","epoch":6,"acc":6.1},{"series":"Corrupted [Val]","epoch":7,"acc":8.6},{"series":"Corrupted [Val]","epoch":8,"acc":10.9},{"series":"Corrupted [Val]","epoch":9,"acc":9.1},{"series":"Corrupted [Val]","epoch":10,"acc":12.5},
    {"series":"Corrupted [Val]","epoch":11,"acc":9.5},{"series":"Corrupted [Val]","epoch":12,"acc":16.3},{"series":"Corrupted [Val]","epoch":13,"acc":17.5},{"series":"Corrupted [Val]","epoch":14,"acc":9.8},{"series":"Corrupted [Val]","epoch":15,"acc":8.6},{"series":"Corrupted [Val]","epoch":16,"acc":20.9},{"series":"Corrupted [Val]","epoch":17,"acc":18.9},{"series":"Corrupted [Val]","epoch":18,"acc":15.1},{"series":"Corrupted [Val]","epoch":19,"acc":18.4},{"series":"Corrupted [Val]","epoch":20,"acc":12.2},
    {"series":"Corrupted [Val]","epoch":21,"acc":17.5},{"series":"Corrupted [Val]","epoch":22,"acc":20.1},{"series":"Corrupted [Val]","epoch":23,"acc":23.4},{"series":"Corrupted [Val]","epoch":24,"acc":17.9},{"series":"Corrupted [Val]","epoch":25,"acc":19.8},{"series":"Corrupted [Val]","epoch":26,"acc":19.0},{"series":"Corrupted [Val]","epoch":27,"acc":15.8},{"series":"Corrupted [Val]","epoch":28,"acc":18.5},{"series":"Corrupted [Val]","epoch":29,"acc":17.0},{"series":"Corrupted [Val]","epoch":30,"acc":16.6},
    {"series":"Corrupted [Val]","epoch":31,"acc":22.3},{"series":"Corrupted [Val]","epoch":32,"acc":15.9},{"series":"Corrupted [Val]","epoch":33,"acc":19.3},{"series":"Corrupted [Val]","epoch":34,"acc":20.1},{"series":"Corrupted [Val]","epoch":35,"acc":22.1},{"series":"Corrupted [Val]","epoch":36,"acc":18.5},{"series":"Corrupted [Val]","epoch":37,"acc":20.0},{"series":"Corrupted [Val]","epoch":38,"acc":26.5},{"series":"Corrupted [Val]","epoch":39,"acc":19.7},{"series":"Corrupted [Val]","epoch":40,"acc":28.5},
    {"series":"Corrupted [Val]","epoch":41,"acc":24.2},{"series":"Corrupted [Val]","epoch":42,"acc":24.9},{"series":"Corrupted [Val]","epoch":43,"acc":20.6},{"series":"Corrupted [Val]","epoch":44,"acc":29.3},{"series":"Corrupted [Val]","epoch":45,"acc":28.5},{"series":"Corrupted [Val]","epoch":46,"acc":22.6},{"series":"Corrupted [Val]","epoch":47,"acc":32.1},{"series":"Corrupted [Val]","epoch":48,"acc":28.1},{"series":"Corrupted [Val]","epoch":49,"acc":26.2},{"series":"Corrupted [Val]","epoch":50,"acc":27.2},
    {"series":"Corrupted [Val]","epoch":51,"acc":27.7},{"series":"Corrupted [Val]","epoch":52,"acc":25.8},{"series":"Corrupted [Val]","epoch":53,"acc":30.6},{"series":"Corrupted [Val]","epoch":54,"acc":31.3},{"series":"Corrupted [Val]","epoch":55,"acc":33.2},{"series":"Corrupted [Val]","epoch":56,"acc":36.5},{"series":"Corrupted [Val]","epoch":57,"acc":33.3},{"series":"Corrupted [Val]","epoch":58,"acc":32.5},{"series":"Corrupted [Val]","epoch":59,"acc":36.8},{"series":"Corrupted [Val]","epoch":60,"acc":33.3},
    {"series":"Corrupted [Val]","epoch":61,"acc":34.4},{"series":"Corrupted [Val]","epoch":62,"acc":31.6},{"series":"Corrupted [Val]","epoch":63,"acc":43.3},{"series":"Corrupted [Val]","epoch":64,"acc":31.8},{"series":"Corrupted [Val]","epoch":65,"acc":41.0},{"series":"Corrupted [Val]","epoch":66,"acc":43.7},{"series":"Corrupted [Val]","epoch":67,"acc":45.7},{"series":"Corrupted [Val]","epoch":68,"acc":47.3},{"series":"Corrupted [Val]","epoch":69,"acc":45.4},{"series":"Corrupted [Val]","epoch":70,"acc":44.1},
    {"series":"Corrupted [Val]","epoch":71,"acc":48.9},{"series":"Corrupted [Val]","epoch":72,"acc":47.0},{"series":"Corrupted [Val]","epoch":73,"acc":54.8},{"series":"Corrupted [Val]","epoch":74,"acc":58.0},{"series":"Corrupted [Val]","epoch":75,"acc":60.8},{"series":"Corrupted [Val]","epoch":76,"acc":59.3},{"series":"Corrupted [Val]","epoch":77,"acc":57.0},{"series":"Corrupted [Val]","epoch":78,"acc":62.1},{"series":"Corrupted [Val]","epoch":79,"acc":67.9},{"series":"Corrupted [Val]","epoch":80,"acc":69.3},
    {"series":"Corrupted [Val]","epoch":81,"acc":72.4},{"series":"Corrupted [Val]","epoch":82,"acc":71.6},{"series":"Corrupted [Val]","epoch":83,"acc":71.1},{"series":"Corrupted [Val]","epoch":84,"acc":79.6},{"series":"Corrupted [Val]","epoch":85,"acc":85.0},{"series":"Corrupted [Val]","epoch":86,"acc":82.2},{"series":"Corrupted [Val]","epoch":87,"acc":89.2},{"series":"Corrupted [Val]","epoch":88,"acc":89.7},{"series":"Corrupted [Val]","epoch":89,"acc":88.9},{"series":"Corrupted [Val]","epoch":90,"acc":92.8},
    {"series":"Corrupted [Val]","epoch":91,"acc":94.9},{"series":"Corrupted [Val]","epoch":92,"acc":96.8},{"series":"Corrupted [Val]","epoch":93,"acc":97.8},{"series":"Corrupted [Val]","epoch":94,"acc":98.7},{"series":"Corrupted [Val]","epoch":95,"acc":99.1},{"series":"Corrupted [Val]","epoch":96,"acc":98.8},{"series":"Corrupted [Val]","epoch":97,"acc":99.0},{"series":"Corrupted [Val]","epoch":98,"acc":99.4},{"series":"Corrupted [Val]","epoch":99,"acc":99.4},{"series":"Corrupted [Val]","epoch":100,"acc":99.0},

    {"series":"Random Outputs [Val]","epoch":1,"acc":0.2},{"series":"Random Outputs [Val]","epoch":2,"acc":0.1},{"series":"Random Outputs [Val]","epoch":3,"acc":0.3},{"series":"Random Outputs [Val]","epoch":4,"acc":0.5},{"series":"Random Outputs [Val]","epoch":5,"acc":0.2},{"series":"Random Outputs [Val]","epoch":6,"acc":0.1},{"series":"Random Outputs [Val]","epoch":7,"acc":0.3},{"series":"Random Outputs [Val]","epoch":8,"acc":0.2},{"series":"Random Outputs [Val]","epoch":9,"acc":0.4},{"series":"Random Outputs [Val]","epoch":10,"acc":0.3},
    {"series":"Random Outputs [Val]","epoch":11,"acc":0.1},{"series":"Random Outputs [Val]","epoch":12,"acc":0.2},{"series":"Random Outputs [Val]","epoch":13,"acc":0.6},{"series":"Random Outputs [Val]","epoch":14,"acc":0.2},{"series":"Random Outputs [Val]","epoch":15,"acc":0.1},{"series":"Random Outputs [Val]","epoch":16,"acc":0.3},{"series":"Random Outputs [Val]","epoch":17,"acc":0.2},{"series":"Random Outputs [Val]","epoch":18,"acc":0.4},{"series":"Random Outputs [Val]","epoch":19,"acc":0.2},{"series":"Random Outputs [Val]","epoch":20,"acc":0.1},
    {"series":"Random Outputs [Val]","epoch":21,"acc":0.2},{"series":"Random Outputs [Val]","epoch":22,"acc":0.3},{"series":"Random Outputs [Val]","epoch":23,"acc":0.2},{"series":"Random Outputs [Val]","epoch":24,"acc":0.1},{"series":"Random Outputs [Val]","epoch":25,"acc":0.3},{"series":"Random Outputs [Val]","epoch":26,"acc":0.2},{"series":"Random Outputs [Val]","epoch":27,"acc":0.7},{"series":"Random Outputs [Val]","epoch":28,"acc":0.2},{"series":"Random Outputs [Val]","epoch":29,"acc":0.1},{"series":"Random Outputs [Val]","epoch":30,"acc":0.3},
    {"series":"Random Outputs [Val]","epoch":31,"acc":0.2},{"series":"Random Outputs [Val]","epoch":32,"acc":0.4},{"series":"Random Outputs [Val]","epoch":33,"acc":0.2},{"series":"Random Outputs [Val]","epoch":34,"acc":0.3},{"series":"Random Outputs [Val]","epoch":35,"acc":0.1},{"series":"Random Outputs [Val]","epoch":36,"acc":0.2},{"series":"Random Outputs [Val]","epoch":37,"acc":0.1},{"series":"Random Outputs [Val]","epoch":38,"acc":0.3},{"series":"Random Outputs [Val]","epoch":39,"acc":0.2},{"series":"Random Outputs [Val]","epoch":40,"acc":0.1},
    {"series":"Random Outputs [Val]","epoch":41,"acc":0.4},{"series":"Random Outputs [Val]","epoch":42,"acc":0.2},{"series":"Random Outputs [Val]","epoch":43,"acc":0.6},{"series":"Random Outputs [Val]","epoch":44,"acc":0.2},{"series":"Random Outputs [Val]","epoch":45,"acc":0.3},{"series":"Random Outputs [Val]","epoch":46,"acc":0.2},{"series":"Random Outputs [Val]","epoch":47,"acc":0.1},{"series":"Random Outputs [Val]","epoch":48,"acc":0.5},{"series":"Random Outputs [Val]","epoch":49,"acc":0.2},{"series":"Random Outputs [Val]","epoch":50,"acc":0.3},
    {"series":"Random Outputs [Val]","epoch":51,"acc":0.2},{"series":"Random Outputs [Val]","epoch":52,"acc":0.1},{"series":"Random Outputs [Val]","epoch":53,"acc":0.3},{"series":"Random Outputs [Val]","epoch":54,"acc":0.5},{"series":"Random Outputs [Val]","epoch":55,"acc":0.2},{"series":"Random Outputs [Val]","epoch":56,"acc":0.4},{"series":"Random Outputs [Val]","epoch":57,"acc":0.2},{"series":"Random Outputs [Val]","epoch":58,"acc":0.3},{"series":"Random Outputs [Val]","epoch":59,"acc":0.1},{"series":"Random Outputs [Val]","epoch":60,"acc":0.2},
    {"series":"Random Outputs [Val]","epoch":61,"acc":0.4},{"series":"Random Outputs [Val]","epoch":62,"acc":0.2},{"series":"Random Outputs [Val]","epoch":63,"acc":0.3},{"series":"Random Outputs [Val]","epoch":64,"acc":0.1},{"series":"Random Outputs [Val]","epoch":65,"acc":0.2},{"series":"Random Outputs [Val]","epoch":66,"acc":0.3},{"series":"Random Outputs [Val]","epoch":67,"acc":0.4},{"series":"Random Outputs [Val]","epoch":68,"acc":0.2},{"series":"Random Outputs [Val]","epoch":69,"acc":0.3},{"series":"Random Outputs [Val]","epoch":70,"acc":0.2},
    {"series":"Random Outputs [Val]","epoch":71,"acc":0.5},{"series":"Random Outputs [Val]","epoch":72,"acc":0.3},{"series":"Random Outputs [Val]","epoch":73,"acc":0.2},{"series":"Random Outputs [Val]","epoch":74,"acc":0.4},{"series":"Random Outputs [Val]","epoch":75,"acc":0.3},{"series":"Random Outputs [Val]","epoch":76,"acc":0.3},{"series":"Random Outputs [Val]","epoch":77,"acc":0.1},{"series":"Random Outputs [Val]","epoch":78,"acc":0.1},{"series":"Random Outputs [Val]","epoch":79,"acc":0.1},{"series":"Random Outputs [Val]","epoch":80,"acc":0.9},
    {"series":"Random Outputs [Val]","epoch":81,"acc":0.9},{"series":"Random Outputs [Val]","epoch":82,"acc":1.3},{"series":"Random Outputs [Val]","epoch":83,"acc":2.5},{"series":"Random Outputs [Val]","epoch":84,"acc":2.9},{"series":"Random Outputs [Val]","epoch":85,"acc":2.9},{"series":"Random Outputs [Val]","epoch":86,"acc":4.5},{"series":"Random Outputs [Val]","epoch":87,"acc":5.7},{"series":"Random Outputs [Val]","epoch":88,"acc":5.3},{"series":"Random Outputs [Val]","epoch":89,"acc":7.7},{"series":"Random Outputs [Val]","epoch":90,"acc":8.9},
    {"series":"Random Outputs [Val]","epoch":91,"acc":8.9},{"series":"Random Outputs [Val]","epoch":92,"acc":11.7},{"series":"Random Outputs [Val]","epoch":93,"acc":13.7},{"series":"Random Outputs [Val]","epoch":94,"acc":16.9},{"series":"Random Outputs [Val]","epoch":95,"acc":20.0},{"series":"Random Outputs [Val]","epoch":96,"acc":19.7},{"series":"Random Outputs [Val]","epoch":97,"acc":21.3},{"series":"Random Outputs [Val]","epoch":98,"acc":22.1},{"series":"Random Outputs [Val]","epoch":99,"acc":24.0},{"series":"Random Outputs [Val]","epoch":100,"acc":22.5}
  ]},
  "encoding": {
    "x": {
      "field": "epoch",
      "type": "quantitative",
      "scale": {"domain": [-3.95, 104.95], "nice": false, "zero": false},
      "axis": {"values": [0, 20, 40, 60, 80, 100], "format": "d", "title": "Epochs"}
    },
    "y": {
      "field": "acc",
      "type": "quantitative",
      "scale": {"domain": [-5, 105], "nice": false, "zero": false},
      "axis": {"values": [0, 20, 40, 60, 80, 100], "format": "d", "title": "Accuracy (%)"}
    }
  },
  "layer": [
    {
      "mark": {"type": "line", "strokeWidth": 7, "opacity": 0.7},
      "encoding": {
        "color": {
          "field": "series",
          "type": "nominal",
          "scale": {
            "domain": ["Train", "Test", "Typical", "Atypical", "Corrupted", "Random Outputs", "Typical [Val]", "Atypical [Val]", "Corrupted [Val]", "Random Outputs [Val]"],
            "range": ["#7f7f7f", "#9467bd", "#ff7f0e", "#d62728", "#e377c2", "#bcbd22", "#8c564b", "#17becf", "#7f7f7f", "#2ca02c"]
          },
          "legend": {
            "title": null, "orient": "none", "legendX": 33, "legendY": 35, "direction": "vertical", "zindex": 1,
            "padding": 22, "rowPadding": 33, "cornerRadius": 10,
            "fillColor": "rgba(255,255,255,0.8)", "strokeColor": "#cccccc",
            "symbolType": "M-2.37,0L2.37,0", "symbolSize": 3481, "symbolStrokeWidth": 7, "symbolOffset": 37,
            "labelOffset": 88, "labelFont": "DejaVu Sans", "labelFontSize": 66, "labelColor": "black", "labelLimit": 0,
            "encode": {"legend": {"update": {"strokeWidth": {"value": 3.5}}}}
          }
        },
        "strokeDash": {
          "field": "series",
          "type": "nominal",
          "scale": {
            "domain": ["Train", "Test", "Typical", "Atypical", "Corrupted", "Random Outputs", "Typical [Val]", "Atypical [Val]", "Corrupted [Val]", "Random Outputs [Val]"],
            "range": [[1, 0], [7, 11.5], [1, 0], [26, 11.2], [44.8, 11.2, 7, 11.2], [7, 11.5], [1, 0], [26, 11.2], [44.8, 11.2, 7, 11.2], [7, 11.5]]
          },
          "legend": {
            "title": null, "orient": "none", "legendX": 33, "legendY": 35, "direction": "vertical", "zindex": 1,
            "padding": 22, "rowPadding": 33, "cornerRadius": 10,
            "fillColor": "rgba(255,255,255,0.8)", "strokeColor": "#cccccc",
            "symbolType": "M-2.37,0L2.37,0", "symbolSize": 3481, "symbolStrokeWidth": 7, "symbolOffset": 37,
            "labelOffset": 88, "labelFont": "DejaVu Sans", "labelFontSize": 66, "labelColor": "black", "labelLimit": 0,
            "encode": {"legend": {"update": {"strokeWidth": {"value": 3.5}}}}
          }
        }
      }
    },
    {
      "mark": {"type": "point", "filled": true, "size": 3481, "stroke": "black", "strokeWidth": 4, "strokeOpacity": 0.8, "fillOpacity": 0.8},
      "encoding": {
        "fill": {
          "field": "series",
          "type": "nominal",
          "scale": {
            "domain": ["Train", "Test", "Typical", "Atypical", "Corrupted", "Random Outputs", "Typical [Val]", "Atypical [Val]", "Corrupted [Val]", "Random Outputs [Val]"],
            "range": ["#7f7f7f", "#9467bd", "#ff7f0e", "#d62728", "#e377c2", "#bcbd22", "#8c564b", "#17becf", "#7f7f7f", "#2ca02c"]
          },
          "legend": {
            "title": null, "orient": "none", "legendX": 33, "legendY": 35, "direction": "vertical", "zindex": 2,
            "padding": 22, "rowPadding": 33,
            "symbolSize": 3481, "symbolStrokeWidth": 4, "symbolStrokeColor": "black", "symbolOffset": 37,
            "labelOffset": 88, "labelFont": "DejaVu Sans", "labelFontSize": 66, "labelExpr": "''", "labelLimit": 0,
            "encode": {"symbols": {"update": {"stroke": {"value": "black"}, "strokeWidth": {"value": 4}, "strokeOpacity": {"value": 0.8}, "fillOpacity": {"value": 0.8}}}}
          }
        },
        "shape": {
          "field": "series",
          "type": "nominal",
          "scale": {
            "domain": ["Train", "Test", "Typical", "Atypical", "Corrupted", "Random Outputs", "Typical [Val]", "Atypical [Val]", "Corrupted [Val]", "Random Outputs [Val]"],
            "range": [
              "M0.3729,0A0.3729,0.3729,0,1,1,-0.3729,0A0.3729,0.3729,0,1,1,0.3729,0ZM-2.37,0L-2.37,0M2.37,0L2.37,0M0,-0.847L0,-0.847M0,0.847L0,0.847",
              "M-0.1243,-0.3729L0.1243,-0.3729L0.1243,-0.1243L0.3729,-0.1243L0.3729,0.1243L0.1243,0.1243L0.1243,0.3729L-0.1243,0.3729L-0.1243,0.1243L-0.3729,0.1243L-0.3729,-0.1243L-0.1243,-0.1243ZM-2.37,0L-2.37,0M2.37,0L2.37,0M0,-0.847L0,-0.847M0,0.847L0,0.847",
              "M0,-0.3729L0.3546,-0.1152L0.2193,0.3017L-0.2193,0.3017L-0.3546,-0.1152ZM-2.37,0L-2.37,0M2.37,0L2.37,0M0,-0.847L0,-0.847M0,0.847L0,0.847",
              "M0,-0.5274L0.5274,0L0,0.5274L-0.5274,0ZM-2.37,0L-2.37,0M2.37,0L2.37,0M0,-0.847L0,-0.847M0,0.847L0,0.847",
              "M0,0.3729L-0.3729,-0.3729L0.3729,-0.3729ZM-2.37,0L-2.37,0M2.37,0L2.37,0M0,-0.847L0,-0.847M0,0.847L0,0.847",
              "M0,-0.3729L-0.3729,0.3729L0.3729,0.3729ZM-2.37,0L-2.37,0M2.37,0L2.37,0M0,-0.847L0,-0.847M0,0.847L0,0.847",
              "M0,-0.3729L0.3229,-0.1865L0.3229,0.1865L0,0.3729L-0.3229,0.1865L-0.3229,-0.1865ZM-2.37,0L-2.37,0M2.37,0L2.37,0M0,-0.847L0,-0.847M0,0.847L0,0.847",
              "M0,0L0,0.3729M0,0L-0.3229,-0.1865M0,0L0.3229,-0.1865M-2.37,0L-2.37,0M2.37,0L2.37,0M0,-0.847L0,-0.847M0,0.847L0,0.847",
              "M0,0L0,-0.3729M0,0L-0.3229,0.1865M0,0L0.3229,0.1865M-2.37,0L-2.37,0M2.37,0L2.37,0M0,-0.847L0,-0.847M0,0.847L0,0.847",
              "M0,0L-0.3729,0M0,0L0.1865,-0.3229M0,0L0.1865,0.3229M-2.37,0L-2.37,0M2.37,0L2.37,0M0,-0.847L0,-0.847M0,0.847L0,0.847"
            ]
          },
          "legend": {
            "title": null, "orient": "none", "legendX": 33, "legendY": 35, "direction": "vertical", "zindex": 2,
            "padding": 22, "rowPadding": 33,
            "symbolSize": 3481, "symbolStrokeWidth": 4, "symbolStrokeColor": "black", "symbolOffset": 37,
            "labelOffset": 88, "labelFont": "DejaVu Sans", "labelFontSize": 66, "labelExpr": "''", "labelLimit": 0,
            "encode": {"symbols": {"update": {"stroke": {"value": "black"}, "strokeWidth": {"value": 4}, "strokeOpacity": {"value": 0.8}, "fillOpacity": {"value": 0.8}}}}
          }
        }
      }
    }
  ],
  "resolve": {
    "scale": {"color": "independent", "strokeDash": "independent", "fill": "independent", "shape": "independent"},
    "legend": {"color": "independent", "strokeDash": "independent", "fill": "independent", "shape": "independent"}
  },
  "config": {
    "view": {"stroke": "black", "strokeWidth": 3.3},
    "axis": {
      "grid": false,
      "domain": false,
      "ticks": true,
      "tickColor": "black",
      "tickWidth": 3.3,
      "tickSize": 14.6,
      "labelFont": "DejaVu Sans",
      "labelFontSize": 64,
      "labelColor": "black",
      "labelPadding": 14.6,
      "titleFont": "DejaVu Sans",
      "titleFontSize": 66,
      "titleFontWeight": "normal",
      "titleColor": "black",
      "titlePadding": 16
    }
  }
}
